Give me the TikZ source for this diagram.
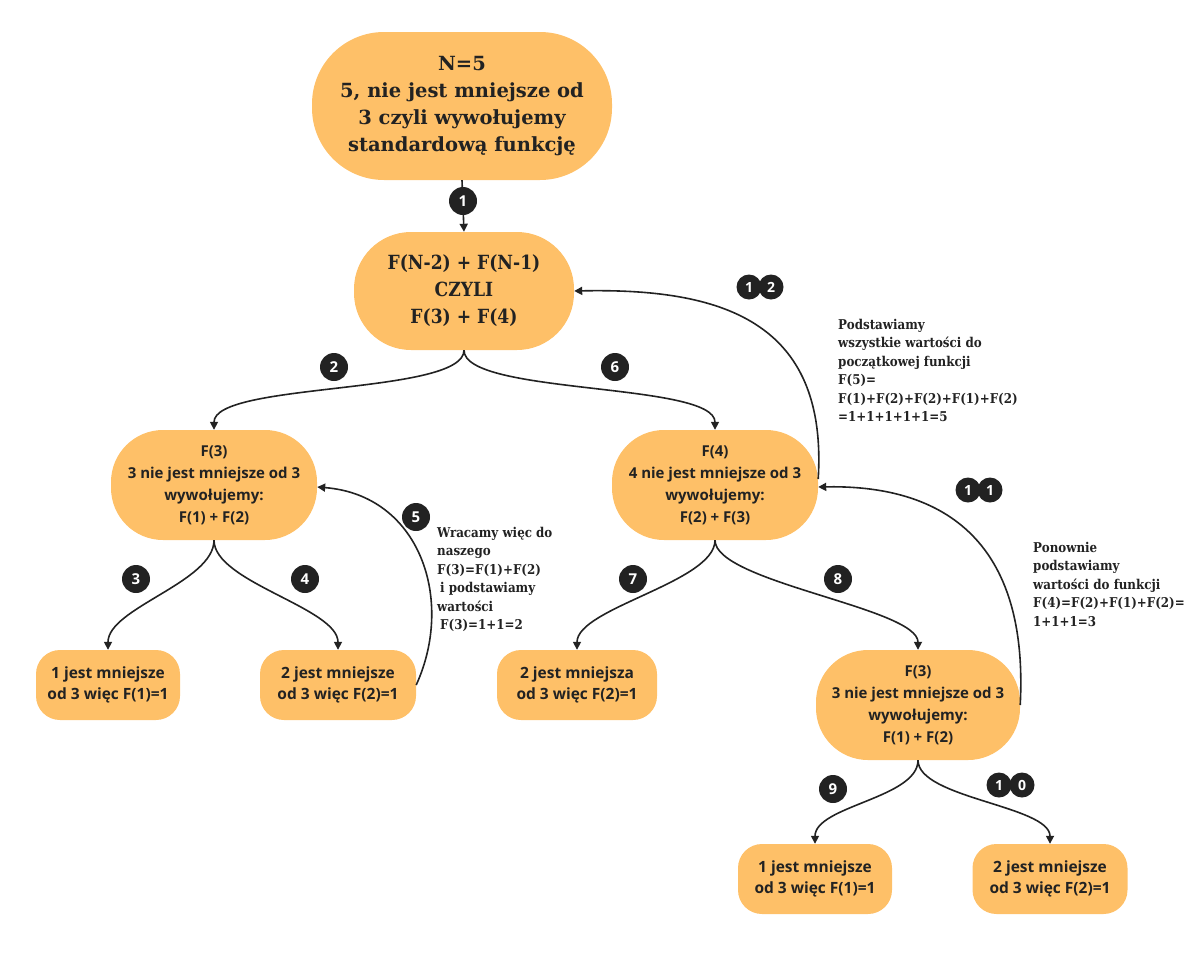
\documentclass[tikz,border=0pt]{standalone}
\usepackage{fontspec}
\usetikzlibrary{arrows.meta}
\newfontfamily\slab{DejaVu Serif}
\newfontfamily\slabn[FakeStretch=0.88]{DejaVu Serif}
\newfontfamily\osans{Open Sans}
\definecolor{box}{HTML}{FEC068}
\definecolor{ink}{HTML}{222222}
\tikzset{
 bigbox/.style={fill=box, draw=none, align=center, inner sep=0pt, text=ink, font=\slab\bfseries\fontsize{19.5}{27}\selectfont},
 midbox/.style={fill=box, align=center, inner sep=0pt, text=ink, minimum width=206pt, minimum height=110pt, rounded corners=52pt, font=\osans\bfseries\fontsize{15}{22}\selectfont},
 leaf/.style={fill=box, align=center, inner sep=0pt, text=ink, minimum height=70pt, rounded corners=24pt, font=\osans\bfseries\fontsize{15.5}{21}\selectfont},
 conn/.style={draw=ink, line width=1.6pt, -{Triangle[length=8pt,width=8pt]}},
 badge/.style={circle, fill=ink, text=white, inner sep=0pt, minimum size=28pt, font=\osans\bfseries\fontsize{15}{15}\selectfont},
 sbadge/.style={circle, fill=ink, text=white, inner sep=0pt, minimum size=25pt, font=\osans\bfseries\fontsize{14}{14}\selectfont},
 note/.style={align=left, anchor=north west, inner sep=0pt, text=ink, font=\slabn\bfseries\fontsize{13.5}{18.5}\selectfont},
}
\begin{document}
\begin{tikzpicture}[x=1pt,y=-1pt]
\useasboundingbox (0,0) rectangle (1198,956);
% nodes
\node[bigbox, minimum width=300pt, minimum height=148pt, rounded corners=72pt] (top) at (462,106)
  {N=5\\5, nie jest mniejsze od\\3 czyli wywołujemy\\standardową funkcję};
\node[bigbox, minimum width=220pt, minimum height=118pt, rounded corners=57pt, font=\slabn\bfseries\fontsize{19.5}{27}\selectfont] (n2) at (464,291)
  {F(N-2) + F(N-1)\\CZYLI\\F(3) + F(4)};
\node[midbox] (f3) at (214,485) {F(3)\\3 nie jest mniejsze od 3\\wywołujemy:\\F(1) + F(2)};
\node[midbox] (f4) at (715,485) {F(4)\\4 nie jest mniejsze od 3\\wywołujemy:\\F(2) + F(3)};
\node[leaf, minimum width=144pt] (l1) at (108,685) {1 jest mniejsze\\od 3 więc F(1)=1};
\node[leaf, minimum width=156pt] (l2) at (338,685) {2 jest mniejsze\\od 3 więc F(2)=1};
\node[leaf, minimum width=160pt] (l3) at (577,685) {2 jest mniejsza\\od 3 więc F(2)=1};
\node[midbox, minimum width=204pt] (f3b) at (918,705) {F(3)\\3 nie jest mniejsze od 3\\wywołujemy:\\F(1) + F(2)};
\node[leaf, minimum width=154pt] (l4) at (815,879) {1 jest mniejsze\\od 3 więc F(1)=1};
\node[leaf, minimum width=155pt] (l5) at (1050,879) {2 jest mniejsze\\od 3 więc F(2)=1};
% connectors
\draw[conn] (top.south) -- (n2.north);
\draw[conn] (n2.south) .. controls +(0,45) and +(0,-48) .. (f3.north);
\draw[conn] (n2.south) .. controls +(0,45) and +(0,-48) .. (f4.north);
\draw[conn] (f3.south) .. controls +(0,42) and +(0,-42) .. (l1.north);
\draw[conn] (f3.south) .. controls +(0,42) and +(0,-42) .. (l2.north);
\draw[conn] (f4.south) .. controls +(0,42) and +(0,-42) .. (l3.north);
\draw[conn] (f4.south) .. controls +(0,42) and +(0,-42) .. (f3b.north);
\draw[conn] (f3b.south) .. controls +(0,38) and +(0,-38) .. (l4.north);
\draw[conn] (f3b.south) .. controls +(0,38) and +(0,-38) .. (l5.north);
\draw[conn] (l2.east) .. controls (455,600) and (420,495) .. ([yshift=-2pt]f3.east);
\draw[conn] (f3b.east) .. controls (1030,520) and (920,485) .. ([yshift=-2pt]f4.east);
\draw[conn] ([yshift=6pt]f4.east) .. controls (828,320) and (720,288) .. (n2.east);
% badges
\node[badge] (b1) at (463,201) {1};
\node[badge] (b2) at (334,367) {2};
\node[badge] (b6) at (615,367) {6};
\node[badge] (b3) at (136,579) {3};
\node[badge] (b4) at (305,579) {4};
\node[badge] (b5) at (416,517) {5};
\node[badge] (b7) at (633,579) {7};
\node[badge] (b8) at (838,579) {8};
\node[badge] (b9) at (833,789) {9};
\node[sbadge] (b12a) at (749,287) {1};
\node[sbadge] (b12b) at (771,287) {2};
\node[sbadge] (b11a) at (968,490) {1};
\node[sbadge] (b11b) at (990,490) {1};
\node[sbadge] (b10a) at (999,785) {1};
\node[sbadge] (b10b) at (1022,785) {0};
% notes
\node[note] (t5) at (437,527) {Wracamy więc do\\naszego\\F(3)=F(1)+F(2)\\\hspace{3pt}i podstawiamy\\wartości\\\hspace{3pt}F(3)=1+1=2};
\node[note] (t12) at (838,319) {Podstawiamy\\wszystkie wartości do\\początkowej funkcji\\F(5)=\\F(1)+F(2)+F(2)+F(1)+F(2)\\=1+1+1+1+1=5};
\node[note] (t11) at (1033,542) {Ponownie\\podstawiamy\\wartości do funkcji\\F(4)=F(2)+F(1)+F(2)=\\1+1+1=3};
\end{tikzpicture}
\end{document}
